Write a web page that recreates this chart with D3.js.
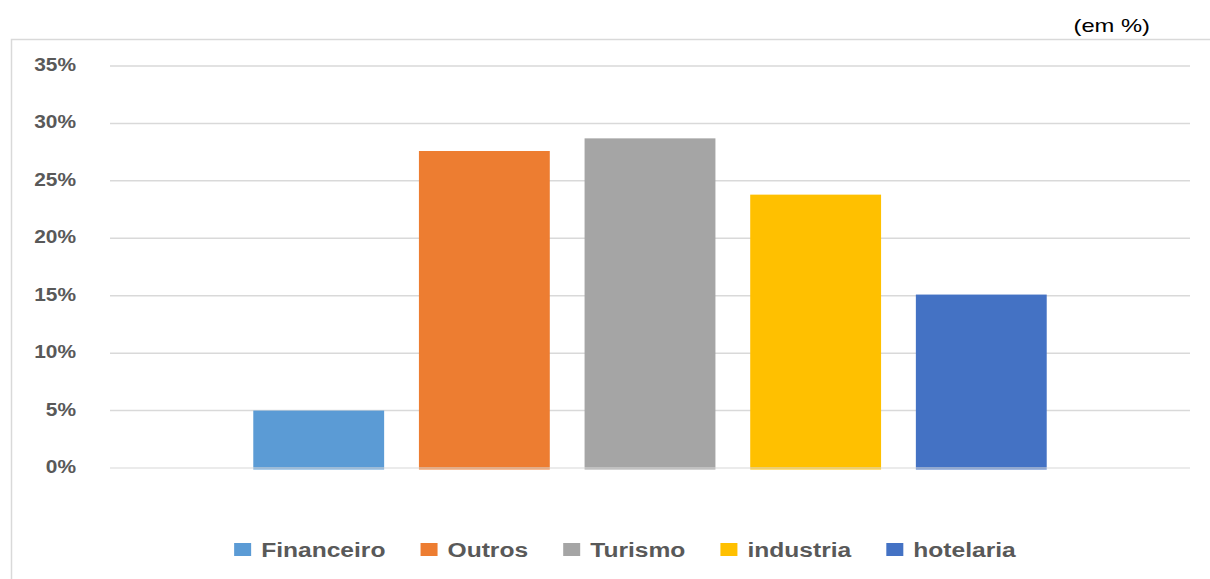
<!DOCTYPE html>
<html>
<head>
<meta charset="utf-8">
<script src="https://cdn.jsdelivr.net/npm/d3@7"></script>
<style>
  html, body { margin: 0; padding: 0; background: #fff; }
  svg { display: block; }
</style>
</head>
<body>
<svg id="chart" width="1210" height="579"></svg>
<script>
// Share by sector (%)
const seriesNames = ["Financeiro", "Outros", "Turismo", "industria", "hotelaria"];
const seriesValues = [5.0, 27.6, 28.7, 23.8, 15.1];
const seriesColors = ["#5B9BD5", "#ED7D31", "#A5A5A5", "#FFC000", "#4472C4"];
const yTicks = [0, 5, 10, 15, 20, 25, 30, 35];
const unitLabel = "(em %)";

const svg = d3.select("#chart");
const W = 1210, H = 579;
const plot = { left: 110, right: 1190, top: 66, bottom: 468 };
const textGrey = "#595959";
const gridGrey = "#d9d9d9";

// Outer chart frame (runs past the right and bottom edges)
svg.append("rect")
  .attr("x", 11.5).attr("y", 39.5)
  .attr("width", 1400).attr("height", 700)
  .attr("fill", "none").attr("stroke", gridGrey).attr("stroke-width", 1.5);

// Unit caption
svg.append("text")
  .attr("transform", "translate(1150,32) scale(1.25,1)")
  .attr("text-anchor", "end")
  .attr("font-family", "Liberation Sans, Arial, sans-serif")
  .attr("font-size", 19)
  .attr("fill", "#000")
  .text(unitLabel);

const y = d3.scaleLinear().domain([0, 35]).range([plot.bottom, plot.top]);

// One category holding the five series side by side
const xCat = d3.scaleBand().domain(["setor"]).range([plot.left, plot.right]).paddingOuter(0.152).paddingInner(0);
const xSeries = d3.scaleBand().domain(seriesNames)
  .range([xCat("setor"), xCat("setor") + xCat.bandwidth()])
  .paddingInner(0.21).paddingOuter(0.105);

// Gridlines
svg.append("g").selectAll("line").data(yTicks.filter(d => d > 0)).join("line")
  .attr("x1", plot.left).attr("x2", plot.right)
  .attr("y1", d => y(d)).attr("y2", d => y(d))
  .attr("stroke", gridGrey).attr("stroke-width", 1.5);

// Y tick labels
svg.append("g").selectAll("text").data(yTicks).join("text")
  .attr("transform", d => `translate(76,${y(d) + 5}) scale(1.1,1)`)
  .attr("text-anchor", "end")
  .attr("font-family", "Liberation Sans, Arial, sans-serif")
  .attr("font-weight", "bold")
  .attr("font-size", 19)
  .attr("fill", textGrey)
  .text(d => d + "%");

// Bars
const data = seriesNames.map((name, i) => ({ name, value: seriesValues[i], color: seriesColors[i] }));
svg.append("g").selectAll("rect").data(data).join("rect")
  .attr("x", d => xSeries(d.name))
  .attr("width", xSeries.bandwidth())
  .attr("y", d => y(d.value))
  .attr("height", d => y(0) - y(d.value) + 1.5)
  .attr("fill", d => d.color);

// Zero baseline drawn over the bars
svg.append("line")
  .attr("x1", plot.left).attr("x2", plot.right)
  .attr("y1", y(0)).attr("y2", y(0))
  .attr("stroke", gridGrey).attr("stroke-opacity", 0.7).attr("stroke-width", 1.5);

// Legend
const legend = svg.append("g");
const stretch = 1.2, sw = 17, sh = 13, gapText = 10, gapItem = 35, legendY = 557;
const items = legend.selectAll("g").data(data).join("g");
items.append("rect").attr("width", sw).attr("height", sh).attr("y", legendY - 14)
  .attr("fill", d => d.color);
const labels = items.append("text")
  .attr("font-family", "Liberation Sans, Arial, sans-serif")
  .attr("font-weight", "bold")
  .attr("font-size", 20.5)
  .attr("fill", textGrey)
  .text(d => d.name);
let cursor = 0;
const widths = [];
labels.each(function () { widths.push(this.getComputedTextLength() * stretch); });
const offsets = widths.map(w => { const o = cursor; cursor += sw + gapText + w + gapItem; return o; });
const total = cursor - gapItem;
const legendX = 625 - total / 2;
items.attr("transform", (d, i) => `translate(${legendX + offsets[i]},0)`);
labels.attr("transform", (d, i) => `translate(${sw + gapText},${legendY}) scale(${stretch},1)`);
</script>
</body>
</html>
